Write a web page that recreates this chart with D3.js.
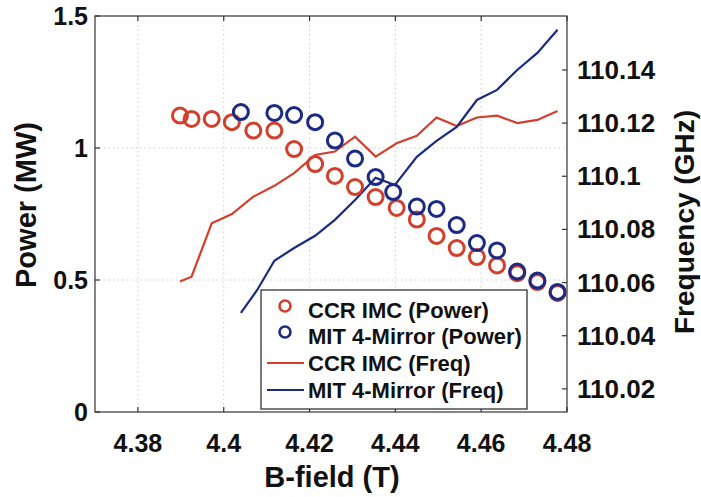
<!DOCTYPE html>
<meta charset="utf-8">
<head>
  <title>Power and frequency vs B-field</title>
</head>
<style>
body { margin: 0; background: #fff; }
svg text { font-family: "Liberation Sans", Arial, Helvetica, sans-serif; font-weight: bold; fill: #111; }
.frame { fill: none; stroke: #333; stroke-width: 1.2px; }
.grid line { stroke: #c9cbdc; stroke-width: 1px; stroke-dasharray: 1.5 3; }
.tick { stroke: #333; stroke-width: 1.2px; }
</style>
<body>
<svg width="701" height="497"></svg>

<script src="https://cdnjs.cloudflare.com/ajax/libs/d3/7.8.5/d3.min.js"></script>
<script>
// CCR IMC data
var ccrField = [4.3898, 4.3925, 4.3972, 4.4019, 4.4069, 4.4118, 4.4164, 4.4213, 4.4259, 4.4306,
                4.4354, 4.4403, 4.4450, 4.4496, 4.4543, 4.4590, 4.4637, 4.4684, 4.4731, 4.4778];
var ccrPower = [1.123, 1.110, 1.110, 1.098, 1.066, 1.066, 0.996, 0.939, 0.894, 0.852,
                0.814, 0.773, 0.729, 0.667, 0.621, 0.587, 0.555, 0.526, 0.492, 0.451];
var ccrFreq  = [110.0604, 110.0622, 110.0823, 110.0858, 110.0923, 110.0964, 110.1012, 110.1080, 110.1093, 110.1149,
                110.1074, 110.1124, 110.1152, 110.1221, 110.1189, 110.1221, 110.1228, 110.1200, 110.1212, 110.1246];

// MIT 4-mirror data
var mitPowerField = [4.4040, 4.4118, 4.4164, 4.4213, 4.4259, 4.4306, 4.4354, 4.4395,
                     4.4450, 4.4496, 4.4543, 4.4590, 4.4637, 4.4684, 4.4731, 4.4778];
var mitPower = [1.136, 1.133, 1.125, 1.098, 1.028, 0.960, 0.890, 0.833,
                0.778, 0.769, 0.708, 0.640, 0.612, 0.532, 0.498, 0.455];
var mitFreqField = [4.4040, 4.4078, 4.4118, 4.4164, 4.4213, 4.4259, 4.4306, 4.4354, 4.4399,
                    4.4450, 4.4496, 4.4543, 4.4590, 4.4637, 4.4684, 4.4731, 4.4778];
var mitFreq = [110.0486, 110.0572, 110.0682, 110.0730, 110.0776, 110.0836, 110.0911, 110.0994, 110.0967,
               110.1073, 110.1133, 110.1186, 110.1287, 110.1325, 110.1400, 110.1464, 110.1551];

var xTicks = [4.38, 4.40, 4.42, 4.44, 4.46, 4.48];
var xTickLabels = ["4.38", "4.4", "4.42", "4.44", "4.46", "4.48"];
var yTicks = [0, 0.5, 1, 1.5];
var yTickLabels = ["0", "0.5", "1", "1.5"];
var y2Ticks = [110.02, 110.04, 110.06, 110.08, 110.10, 110.12, 110.14];
var y2TickLabels = ["110.02", "110.04", "110.06", "110.08", "110.1", "110.12", "110.14"];
var legendNames = ["CCR IMC (Power)", "MIT 4-Mirror (Power)", "CCR IMC (Freq)", "MIT 4-Mirror (Freq)"];

var red = "#d23f2c", blue = "#1b2a82";

var pL = 95, pR = 567, pT = 16, pB = 412;
var svg = d3.select("svg");

var x = d3.scaleLinear().domain([4.37, 4.48]).range([pL, pR]);
var y = d3.scaleLinear().domain([0, 1.5]).range([pB, pT]);
var y2 = d3.scaleLinear().domain([110.0113, 110.1603]).range([pB, pT]);

// grid
var grid = svg.append("g").attr("class", "grid");
grid.selectAll("line.gx").data(xTicks.slice(0, -1)).enter().append("line")
  .attr("x1", function(d) { return x(d); }).attr("x2", function(d) { return x(d); })
  .attr("y1", pT).attr("y2", pB);
grid.selectAll("line.gy").data(yTicks.slice(1, -1)).enter().append("line")
  .attr("x1", pL).attr("x2", pR)
  .attr("y1", function(d) { return y(d); }).attr("y2", function(d) { return y(d); });

// frame
svg.append("rect").attr("class", "frame")
  .attr("x", pL).attr("y", pT).attr("width", pR - pL).attr("height", pB - pT);

// ticks (inward, MATLAB style)
var tl = 5;
var ticks = svg.append("g");
xTicks.forEach(function(d) {
  ticks.append("line").attr("class", "tick").attr("x1", x(d)).attr("x2", x(d)).attr("y1", pB).attr("y2", pB - tl);
  ticks.append("line").attr("class", "tick").attr("x1", x(d)).attr("x2", x(d)).attr("y1", pT).attr("y2", pT + tl);
});
yTicks.forEach(function(d) {
  ticks.append("line").attr("class", "tick").attr("x1", pL).attr("x2", pL + tl).attr("y1", y(d)).attr("y2", y(d));
});
y2Ticks.forEach(function(d) {
  ticks.append("line").attr("class", "tick").attr("x1", pR).attr("x2", pR - tl).attr("y1", y2(d)).attr("y2", y2(d));
});

// tick labels
svg.append("g").selectAll("text").data(xTicks).enter().append("text")
  .attr("x", function(d) { return x(d); }).attr("y", 452)
  .attr("text-anchor", "middle").style("font-size", "25px")
  .text(function(d, i) { return xTickLabels[i]; });
svg.append("g").selectAll("text").data(yTicks).enter().append("text")
  .attr("x", 88).attr("y", function(d) { return y(d); })
  .attr("text-anchor", "end").attr("dominant-baseline", "central").style("font-size", "25px")
  .text(function(d, i) { return yTickLabels[i]; });
svg.append("g").selectAll("text").data(y2Ticks).enter().append("text")
  .attr("x", 577).attr("y", function(d) { return y2(d); })
  .attr("text-anchor", "start").attr("dominant-baseline", "central").style("font-size", "26px")
  .text(function(d, i) { return y2TickLabels[i]; });

// axis titles
svg.append("text").attr("x", 332).attr("y", 487).attr("text-anchor", "middle")
  .style("font-size", "29px").text("B-field (T)");
svg.append("text").attr("transform", "translate(36,205) rotate(-90)").attr("text-anchor", "middle")
  .style("font-size", "29px").text("Power (MW)");
svg.append("text").attr("transform", "translate(694,222) rotate(-90)").attr("text-anchor", "middle")
  .style("font-size", "28px").text("Frequency (GHz)");

// frequency lines
var line2 = d3.line().x(function(d) { return x(d[0]); }).y(function(d) { return y2(d[1]); });
svg.append("path").datum(d3.zip(ccrField, ccrFreq)).attr("d", line2)
  .attr("fill", "none").attr("stroke", red).attr("stroke-width", 2.2);
svg.append("path").datum(d3.zip(mitFreqField, mitFreq)).attr("d", line2)
  .attr("fill", "none").attr("stroke", blue).attr("stroke-width", 2.2);

// power markers
svg.append("g").selectAll("circle").data(d3.zip(ccrField, ccrPower)).enter().append("circle")
  .attr("cx", function(d) { return x(d[0]); }).attr("cy", function(d) { return y(d[1]); })
  .attr("r", 7.5).attr("fill", "none").attr("stroke", red).attr("stroke-width", 3);
svg.append("g").selectAll("circle").data(d3.zip(mitPowerField, mitPower)).enter().append("circle")
  .attr("cx", function(d) { return x(d[0]); }).attr("cy", function(d) { return y(d[1]); })
  .attr("r", 7.5).attr("fill", "none").attr("stroke", blue).attr("stroke-width", 3);

// legend
var lg = svg.append("g").attr("transform", "translate(261,290)");
lg.append("rect").attr("width", 266).attr("height", 119)
  .attr("fill", "#fff").attr("stroke", "#222").attr("stroke-width", 1.2);
var rowY = [20, 46, 73, 100];
var colors = [red, blue, red, blue];
legendNames.forEach(function(name, i) {
  if (i < 2) {
    lg.append("circle").attr("cx", 24).attr("cy", rowY[i] - 4).attr("r", 5.5)
      .attr("fill", "none").attr("stroke", colors[i]).attr("stroke-width", 2.6);
  } else {
    lg.append("line").attr("x1", 6).attr("x2", 43).attr("y1", rowY[i]).attr("y2", rowY[i])
      .attr("stroke", colors[i]).attr("stroke-width", 2.2);
  }
  lg.append("text").attr("x", 47).attr("y", rowY[i]).attr("dominant-baseline", "central")
    .style("font-size", "22px").text(name);
});
</script>
</body>
</html>
